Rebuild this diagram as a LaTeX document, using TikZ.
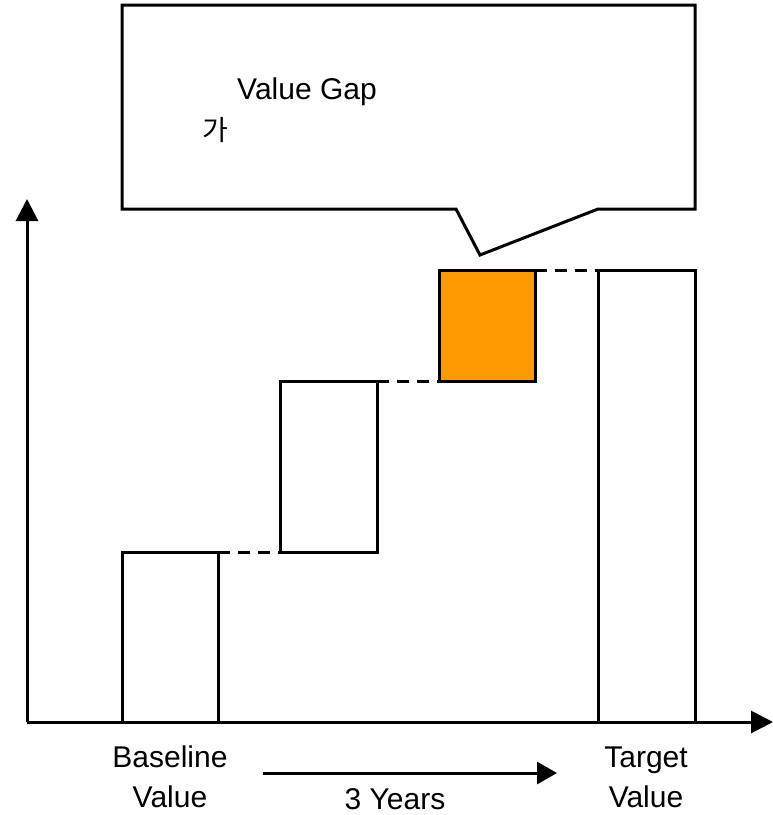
\documentclass[tikz,border=0pt]{standalone}
\usepackage{fontspec}
\setmainfont{Liberation Sans}
\newfontfamily\krfont{Noto Sans CJK KR}
\usetikzlibrary{arrows.meta}
\definecolor{gapfill}{HTML}{FF9900}
\begin{document}
\begin{tikzpicture}[x=1pt,y=-1pt,
  line width=3pt,
  bar/.style={draw=black, rectangle, inner sep=0pt, outer sep=0pt},
  lbl/.style={font=\fontsize{30}{40}\selectfont, align=center, inner sep=0pt},
  link/.style={dashed, dash pattern=on 12pt off 8pt, line width=3pt},
  axisarrow/.style={-{Triangle[length=22pt,width=22pt]}, line width=3pt}]
  \useasboundingbox (0,0) rectangle (773,815);

  % axes
  \coordinate (origin) at (27,722);
  \coordinate (ytop) at (27,199);
  \coordinate (xend) at (773,722);
  \draw[axisarrow] (origin) -- (ytop);
  \draw[axisarrow] (origin) -- (xend);

  % bars
  \node[bar, minimum width=96pt, minimum height=170pt] (b1) at (170,637) {};
  \node[bar, minimum width=97pt, minimum height=171pt] (b2) at (328.5,466.5) {};
  \node[bar, fill=gapfill, minimum width=96pt, minimum height=111pt] (b3) at (487,325.5) {};
  \node[bar, minimum width=97pt, minimum height=452pt] (b4) at (646.5,496) {};

  % dashed steps between bars
  \draw[link] (b1.north east) -- (b2.south west);
  \draw[link] (b2.north east) -- (b3.south west);
  \draw[link] (b3.north east) -- (b4.north west);

  % callout
  \draw[line join=miter] (122,5) -- (695,5) -- (695,209) -- (598,209)
    -- (480,255) -- (456,209) -- (122,209) -- cycle;
  \node[lbl] (gap) at (307,92) {Value Gap};
  \node[inner sep=0pt, font=\krfont\fontsize{28}{32}\selectfont] (ga) at (215,130) {가};

  % labels
  \node[lbl] (base) at (170,777) {Baseline\\Value};
  \node[lbl] (target) at (646,777) {Target\\Value};
  \coordinate (ystart) at (263,773);
  \coordinate (yend) at (557,773);
  \draw[-{Triangle[length=20pt,width=22pt]}, line width=3pt] (ystart) -- (yend);
  \node[lbl] (years) at (395,799) {3 Years};
\end{tikzpicture}
\end{document}
